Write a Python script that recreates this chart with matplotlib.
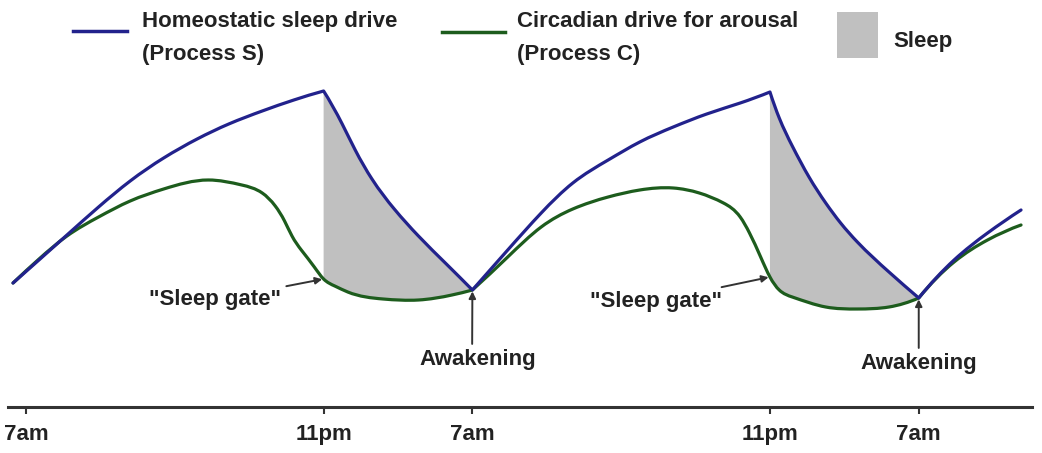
import numpy as np
import matplotlib.pyplot as plt
from matplotlib.path import Path
from matplotlib.patches import PathPatch, Rectangle
from matplotlib.lines import Line2D

plt.rcParams['font.family'] = ['Liberation Sans', 'DejaVu Sans']

# hours after the first 7am, level in arbitrary units
blue_h = [-0.7, 2.2, 3.9, 5.6, 7.4, 9.2, 10.9, 12.7, 14.4, 16.0,
          17.0, 17.7, 18.6, 19.8, 21.1, 22.6, 24.0,
          25.9, 27.7, 29.4, 31.3, 33.0, 34.8, 36.6, 38.4, 40.0,
          40.5, 41.2, 42.1, 43.0, 43.8, 44.7, 46.4, 48.0,
          49.9, 51.7, 53.5]
blue_v = [124, 172, 200, 226, 249, 268, 283, 296, 307, 316,
          283, 257, 228, 198, 171, 143, 117,
          157, 194, 224, 247, 265, 280, 293, 304, 315,
          289, 261, 230, 204, 184, 165, 135, 109,
          147, 174, 197]

green_h = [-0.7, 0.7, 2.2, 3.9, 5.6, 7.4, 9.8, 11.6, 12.7, 13.4,
           13.9, 14.3, 14.8, 15.5, 16.0, 16.6, 17.3, 19.2, 21.1, 22.9, 24.0,
           25.9, 27.7, 29.4, 31.3, 33.0, 34.8, 36.2, 37.5, 38.4, 38.9, 39.5,
           40.0, 40.5, 41.2, 43.0, 44.7, 46.4, 48.0,
           49.9, 51.7, 53.5]
green_v = [124, 148, 171, 190, 206, 218, 227, 222, 214, 201,
           186, 171, 157, 140, 128, 121, 115, 108, 107, 112, 117,
           150, 180, 198, 210, 217, 219, 214, 204, 190, 174, 150,
           130, 117, 110, 100, 98, 100, 109,
           145, 167, 182]

blue_corners = [16.0, 24.0, 40.0, 48.0]
green_corners = [24.0, 48.0]
sleep_spans = [(16.0, 24.0), (40.0, 48.0)]

tick_hours = [0, 16, 24, 40, 48]
tick_labels = ['7am', '11pm', '7am', '11pm', '7am']

gate_points = [(16.0, 128), (40.0, 130)]
gate_text = [(13.7, 107), (37.4, 106)]
wake_points = [(24.0, 117), (48.0, 109)]
wake_text = [(24.3, 47), (48.0, 43)]
wake_relx = [0.45, 0.5]

BLUE = '#22228c'
GREEN = '#1d5c1d'
GREY = '#c0c0c0'


def spline_slopes(x, y):
    # cubic spline (parabolic end pieces), first derivatives at the knots
    n = len(x)
    if n == 2:
        d = (y[1] - y[0]) / (x[1] - x[0])
        return np.array([d, d])
    hk = np.diff(x)
    d = np.diff(y) / hk
    A = np.zeros((n, n))
    r = np.zeros(n)
    A[0, 0], A[0, 1], r[0] = 1, 1, 2 * d[0]
    A[-1, -2], A[-1, -1], r[-1] = 1, 1, 2 * d[-1]
    for i in range(1, n - 1):
        A[i, i - 1] = hk[i]
        A[i, i] = 2 * (hk[i - 1] + hk[i])
        A[i, i + 1] = hk[i - 1]
        r[i] = 3 * (hk[i] * d[i - 1] + hk[i - 1] * d[i])
    return np.linalg.solve(A, r)


def segments(h, v, corners):
    # split at corners, bezier pieces through the read points
    cuts = sorted(set([0] + [i for i, x in enumerate(h) if x in corners] + [len(h) - 1]))
    segs = []
    for a, b in zip(cuts[:-1], cuts[1:]):
        x = np.array(h[a:b + 1], float)
        y = np.array(v[a:b + 1], float)
        m = spline_slopes(x, y)
        for i in range(len(x) - 1):
            dx = x[i + 1] - x[i]
            segs.append((np.array([x[i], y[i]]),
                         np.array([x[i] + dx / 3, y[i] + m[i] * dx / 3]),
                         np.array([x[i + 1] - dx / 3, y[i + 1] - m[i + 1] * dx / 3]),
                         np.array([x[i + 1], y[i + 1]])))
    return segs


def seg_path(segs, start=None, end=None, reverse=False):
    sel = [s for s in segs if (start is None or s[0][0] >= start - 1e-9)
           and (end is None or s[3][0] <= end + 1e-9)]
    if reverse:
        sel = [(s[3], s[2], s[1], s[0]) for s in sel[::-1]]
    verts = [sel[0][0]]
    codes = [Path.MOVETO]
    for s in sel:
        verts += [s[1], s[2], s[3]]
        codes += [Path.CURVE4] * 3
    return verts, codes


fig = plt.figure(figsize=(10.42, 4.53), dpi=100)
ax = fig.add_axes([8 / 1042, 46 / 453, 1024 / 1042, 337 / 453])
ax.set_xlim(-0.97, 54.09)
ax.set_ylim(0, 337)

bsegs = segments(blue_h, blue_v, blue_corners)
gsegs = segments(green_h, green_v, green_corners)

# grey sleep areas between the two curves
for a, b in sleep_spans:
    v1, c1 = seg_path(bsegs, a, b)
    v2, c2 = seg_path(gsegs, a, b, reverse=True)
    verts = v1 + v2 + [v1[0]]
    codes = c1 + [Path.LINETO] + c2[1:] + [Path.CLOSEPOLY]
    ax.add_patch(PathPatch(Path(verts, codes), facecolor=GREY,
                           edgecolor='none', zorder=1))

v, c = seg_path(gsegs)
ax.add_patch(PathPatch(Path(v, c), facecolor='none', edgecolor=GREEN,
                       lw=2.3, zorder=2, capstyle='round', joinstyle='round'))
v, c = seg_path(bsegs)
ax.add_patch(PathPatch(Path(v, c), facecolor='none', edgecolor=BLUE,
                       lw=2.3, zorder=3, capstyle='round', joinstyle='round'))

for (x, y), (tx, ty) in zip(gate_points, gate_text):
    ax.annotate('"Sleep gate"', xy=(x, y), xytext=(tx, ty),
                ha='right', va='center', fontsize=16, fontweight='bold',
                color='#222222',
                arrowprops=dict(arrowstyle='-|>', color='#333333', lw=1.4,
                                mutation_scale=10, shrinkA=2, shrinkB=1))
for (x, y), (tx, ty), rx in zip(wake_points, wake_text, wake_relx):
    ax.annotate('Awakening', xy=(x, y), xytext=(tx, ty),
                ha='center', va='center', fontsize=16, fontweight='bold',
                color='#222222',
                arrowprops=dict(arrowstyle='-|>', color='#333333', lw=1.4,
                                mutation_scale=10, shrinkA=2, shrinkB=1,
                                relpos=(rx, 1)))

ax.set_xticks(tick_hours)
ax.set_xticklabels(tick_labels, fontsize=16, fontweight='bold', color='#222222')
ax.set_yticks([])
for s in ['left', 'top', 'right']:
    ax.spines[s].set_visible(False)
ax.spines['bottom'].set_linewidth(2.2)
ax.spines['bottom'].set_color('#333333')
ax.tick_params(axis='x', length=5, width=1.5, color='#333333', pad=7)

# legend across the top
fig.add_artist(Line2D([73 / 1042, 127 / 1042], [1 - 31 / 453] * 2,
                      color=BLUE, lw=2.5))
fig.text(142 / 1042, 1 - 38 / 453, 'Homeostatic sleep drive\n(Process S)',
         fontsize=16, fontweight='bold', va='center', ha='left',
         color='#222222', linespacing=1.7)
fig.add_artist(Line2D([442 / 1042, 505 / 1042], [1 - 32 / 453] * 2,
                      color=GREEN, lw=2.5))
fig.text(517 / 1042, 1 - 38 / 453, 'Circadian drive for arousal\n(Process C)',
         fontsize=16, fontweight='bold', va='center', ha='left',
         color='#222222', linespacing=1.7)
fig.add_artist(Rectangle((837 / 1042, 1 - 58 / 453), 41 / 1042, 46 / 453,
                         transform=fig.transFigure, facecolor=GREY,
                         edgecolor='none'))
fig.text(893 / 1042, 1 - 42 / 453, 'Sleep', fontsize=16, fontweight='bold',
         va='center', ha='left', color='#222222')

fig.savefig('out.png', dpi=100)
